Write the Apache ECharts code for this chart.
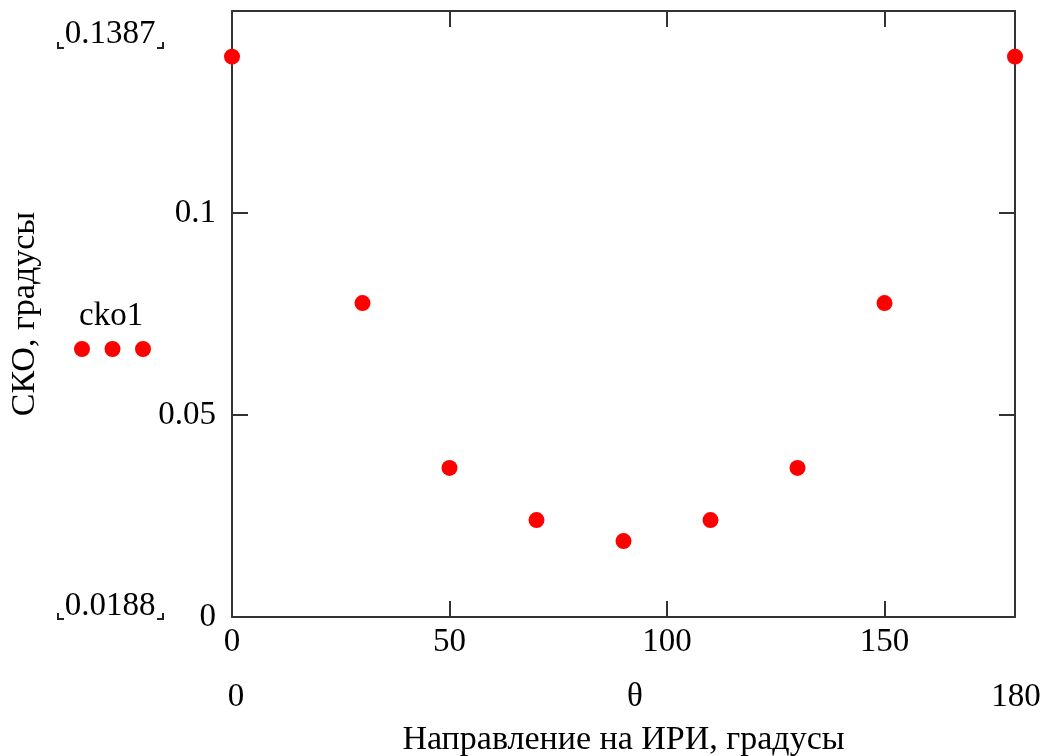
<!DOCTYPE html>
<html>
<head>
<meta charset="utf-8">
<script src="https://cdn.jsdelivr.net/npm/echarts@6/dist/echarts.min.js"></script>
<style>
  html, body { margin: 0; padding: 0; background: #fff; }
  #chart { width: 1057px; height: 756px; }
</style>
</head>
<body>
<div id="chart"></div>
<script>
// данные: направление на ИРИ (градусы) и СКО
var theta = [0, 30, 50, 70, 90, 110, 130, 150, 180];
var cko1 = [0.1387, 0.0777, 0.0369, 0.0240, 0.0188, 0.0240, 0.0369, 0.0777, 0.1387];
var yMaxLabel = '0.1387';
var yMinLabel = '0.0188';
var xMinLabel = '0';
var xMaxLabel = '180';

var font = 'Liberation Serif';
var axisColor = '#333';
var fs = 33;

var chart = echarts.init(document.getElementById('chart'));

// уголки Mathcad вокруг подписей пределов
function bracket(x, y, left) {
    var dx = left ? 6 : -6;
    return {
        type: 'polyline',
        shape: { points: [[x, y - 6], [x, y], [x + dx, y]] },
        style: { stroke: '#222', lineWidth: 2, fill: null }
    };
}

function label(text, x, y) {
    return {
        type: 'text', x: x, y: y,
        style: { text: text, font: fs + 'px "Liberation Serif"', fill: '#000', textAlign: 'center', textVerticalAlign: 'middle' }
    };
}

var axisLine = { onZero: false, lineStyle: { color: axisColor, width: 2 } };
var axisTick = { inside: true, length: 16, lineStyle: { color: axisColor, width: 2 } };

var option = {
    backgroundColor: '#fff',
    animation: false,
    grid: { left: 232, top: 11, right: 42, bottom: 139, outerBoundsMode: 'none', containLabel: false },
    legend: {
        left: 69,
        top: 336,
        itemWidth: 77,
        itemHeight: 16,
        formatter: function () { return ''; },
        icon: 'path://M0,8a8,8 0 1,0 16,0a8,8 0 1,0 -16,0Z M30.5,8a8,8 0 1,0 16,0a8,8 0 1,0 -16,0Z M61,8a8,8 0 1,0 16,0a8,8 0 1,0 -16,0Z',
        data: ['cko1'],
        selectedMode: false
    },
    xAxis: [{
        type: 'value',
        min: 0,
        max: 180,
        interval: 50,
        name: 'Направление на ИРИ, градусы',
        nameLocation: 'middle',
        nameGap: 106,
        nameTextStyle: { fontFamily: font, fontSize: 34, color: '#000' },
        axisLine: axisLine,
        axisTick: axisTick,
        axisLabel: {
            fontFamily: font, fontSize: fs, color: '#000', margin: 9,
            formatter: function (v) { return v % 50 === 0 ? String(v) : ''; }
        },
        splitLine: { show: false }
    }, {
        type: 'value',
        position: 'top',
        min: 0,
        max: 180,
        interval: 50,
        axisLine: axisLine,
        axisTick: axisTick,
        axisLabel: { show: false },
        splitLine: { show: false }
    }],
    yAxis: [{
        type: 'value',
        min: 0,
        max: 0.15,
        interval: 0.05,
        name: 'СКО, градусы',
        nameLocation: 'middle',
        nameGap: 190,
        nameTextStyle: { fontFamily: font, fontSize: 34, color: '#000' },
        axisLine: axisLine,
        axisTick: axisTick,
        axisLabel: {
            fontFamily: font, fontSize: fs, color: '#000', margin: 16,
            padding: [6, 0, 0, 0],
            formatter: function (v) {
                if (v > 0.12) return '';
                return String(Math.round(v * 100) / 100);
            }
        },
        splitLine: { show: false }
    }, {
        type: 'value',
        position: 'right',
        min: 0,
        max: 0.15,
        interval: 0.05,
        axisLine: axisLine,
        axisTick: axisTick,
        axisLabel: { show: false },
        splitLine: { show: false }
    }],
    series: [{
        name: 'cko1',
        type: 'scatter',
        symbol: 'circle',
        symbolSize: 16,
        itemStyle: { color: '#ff0000', opacity: 1 },
        data: theta.map(function (t, i) { return [t, cko1[i]]; })
    }],
    graphic: [
        { type: 'text', left: 79, top: 300, style: { text: 'cko1', font: fs + 'px "Liberation Serif"', fill: '#000' } },
        label(yMaxLabel, 110, 34),
        label(yMinLabel, 110, 606),
        bracket(58, 48, true), bracket(163, 48, false),
        bracket(58, 619, true), bracket(163, 619, false),
        label(xMinLabel, 236, 697),
        label('θ', 635, 697),
        label(xMaxLabel, 1016, 697)
    ]
};

chart.setOption(option);
</script>
</body>
</html>
